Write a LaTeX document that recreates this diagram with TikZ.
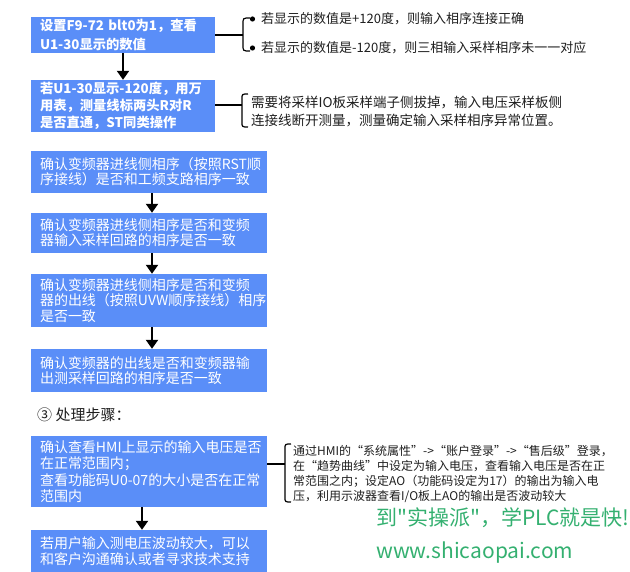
\documentclass[tikz,border=0pt]{standalone}
\usepackage{fontspec}
\setmainfont{Noto Sans CJK SC}
\newfontfamily\wmfont{Noto Sans CJK SC}
\usetikzlibrary{arrows.meta}
\definecolor{boxblue}{RGB}{90,142,248}
\definecolor{wmgreen}{RGB}{52,176,112}
\definecolor{txt}{RGB}{30,30,30}
\exhyphenpenalty=10000
\hyphenpenalty=10000
\tikzset{
  bluebox/.style={draw=none,fill=boxblue,text=white,inner xsep=9pt,inner ysep=0pt,align=left,font=\fontsize{14}{15}\selectfont},
  boldbox/.style={bluebox,font=\bfseries\fontsize{13.3}{18.5}\selectfont},
  flowarrow/.style={line width=2pt,-{Triangle[width=12pt,length=9pt]}},
  stub/.style={line width=2pt},
  bracepath/.style={line width=1.2pt},
  note/.style={anchor=west,inner sep=0pt,align=left,text=txt},
}
\begin{document}
\begin{tikzpicture}[x=1pt,y=-1pt]
\useasboundingbox (0,0) rectangle (630,572);
% top boxes
\node[boldbox,text width=166pt,minimum height=36pt] (b1) at (123,35) {\mbox{设置F9-72~blt0为1，查看}\\U1-30显示的数值};
\node[boldbox,text width=166pt,minimum height=52pt,font=\bfseries\fontsize{13.3}{17}\selectfont] (b2) at (123,106) {\mbox{若U1-30显示-120度，用万}\\\mbox{用表，测量线标两头R对R}\\是否直通，ST同类操作};
\draw[flowarrow] (b1.south) -- (b2.north);
% notes of b1
\coordinate (br1) at (243,35);
\draw[stub] (b1.east |- br1) -- (br1);
\draw[bracepath] (250,18) .. controls (243,18) .. (243,24) -- (243,45) .. controls (243,51) .. (250,51);
\fill (252.5,19) circle (2.6pt);
\fill (252.5,48) circle (2.6pt);
\node[note,font=\fontsize{13}{15}\selectfont] (t1a) at (261,19) {若显示的数值是+120度，则输入相序连接正确};
\node[note,font=\fontsize{13}{15}\selectfont] (t1b) at (261,48) {若显示的数值是-120度，则三相输入采样相序未一一对应};
% notes of b2
\coordinate (br2) at (242,105);
\draw[stub] (b2.east |- br2) -- (br2);
\draw[bracepath] (248,94) .. controls (242,94) .. (242,99) -- (242,122) .. controls (242,127) .. (248,127);
\node[note,font=\fontsize{13.5}{18}\selectfont] (t2) at (251,112) {需要将采样IO板采样端子侧拔掉，输入电压采样板侧\\连接线断开测量，测量确定输入采样相序异常位置。};
% middle chain
\node[bluebox,text width=218pt,minimum height=42pt] (b3) at (149,172) {确认变频器进线侧相序（按照RST顺\\序接线）是否和工频支路相序一致};
\node[bluebox,text width=218pt,minimum height=40pt] (b4) at (149,233) {确认变频器进线侧相序是否和变频\\器输入采样回路的相序是否一致};
\node[bluebox,text width=218pt,minimum height=53pt,font=\fontsize{14}{15.5}\selectfont] (b5) at (149,300.5) {确认变频器进线侧相序是否和变频\\\mbox{器的出线（按照UVW顺序接线）相序}\\是否一致};
\node[bluebox,text width=218pt,minimum height=43pt] (b6) at (149,370.5) {确认变频器的出线是否和变频器输\\出测采样回路的相序是否一致};
\draw[flowarrow] ([xshift=3pt]b3.south) -- ([xshift=3pt]b4.north);
\draw[flowarrow] ([xshift=3pt]b4.south) -- ([xshift=3pt]b5.north);
\draw[flowarrow] ([xshift=3pt]b5.south) -- ([xshift=3pt]b6.north);
% heading
\node[note,font=\fontsize{15}{17}\selectfont] (h3) at (37,415) {③ 处理步骤：};
% bottom boxes
\node[bluebox,text width=218pt,minimum height=71pt,font=\fontsize{14}{16.5}\selectfont] (b7) at (149,471.5) {\mbox{确认查看HMI上显示的输入电压是否}\\在正常范围内；\\\mbox{查看功能码U0-07的大小是否在正常}\\范围内};
\node[bluebox,text width=218pt,minimum height=42pt,font=\fontsize{14}{16}\selectfont] (b8) at (149,551) {若用户输入测电压波动较大，可以\\和客户沟通确认或者寻求技术支持};
\draw[flowarrow] ([xshift=-7pt]b7.south) -- ([xshift=-7pt]b8.north);
% notes of b7
\coordinate (br3) at (285,464);
\draw[stub] (b7.east |- br3) -- (br3);
\draw[bracepath] (291,444) .. controls (285,444) .. (285,449) -- (285,497) .. controls (285,502) .. (291,502);
\node[note,font=\fontsize{12}{15}\selectfont] (t7) at (293,473.5) {通过HMI的“系统属性”->“账户登录”->“售后级”登录，\\在“趋势曲线”中设定为输入电压，查看输入电压是否在正\\常范围之内；设定AO（功能码设定为17）的输出为输入电\\压，利用示波器查看I/O板上AO的输出是否波动较大};
% watermark
\node[note,text=wmgreen,font=\wmfont\fontsize{21}{24}\selectfont] (w1) at (376,518) {到"实操派"，学PLC就是快!};
\node[note,text=wmgreen,font=\wmfont\fontsize{21}{24}\selectfont] (w2) at (376,553) {www.shicaopai.com};
\end{tikzpicture}
\end{document}
